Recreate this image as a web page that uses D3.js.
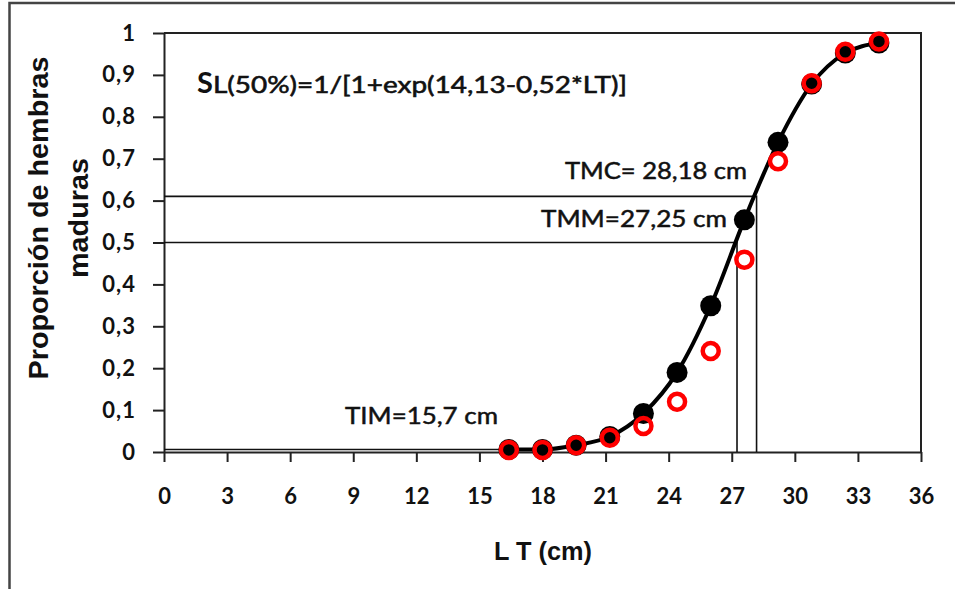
<!DOCTYPE html>
<html>
<head>
<meta charset="utf-8">
<script src="https://cdn.jsdelivr.net/npm/d3@7"></script>
<style>
  html, body { margin: 0; padding: 0; background: #fff; }
  svg { display: block; }
</style>
</head>
<body>
<script>
// Talla total (LT, cm) de cada clase
const lengths = [16.4, 18, 19.6, 21.2, 22.8, 24.4, 26, 27.6, 29.2, 30.8, 32.4, 34];
// Proporción ajustada por el modelo logístico (puntos negros y curva)
const fitted = [0.006, 0.006, 0.016, 0.037, 0.092, 0.19, 0.349, 0.554, 0.739, 0.878, 0.952, 0.976];
// Proporción observada de hembras maduras (círculos rojos)
const observed = [0.005, 0.005, 0.016, 0.034, 0.062, 0.12, 0.241, 0.459, 0.694, 0.88, 0.955, 0.98];

const xTicks = [0, 3, 6, 9, 12, 15, 18, 21, 24, 27, 30, 33, 36];
const yTicks = [0, 0.1, 0.2, 0.3, 0.4, 0.5, 0.6, 0.7, 0.8, 0.9, 1];

// Tallas de referencia: TIM, TMM y TMC
const refLabels = ["TIM=15,7 cm", "TMM=27,25 cm", "TMC= 28,18 cm"];
const refX = [16.4, 27.25, 28.18];
const refY = [0.006, 0.5, 0.61];

const equationLead = "S";
const equationRest = "L(50%)=1/[1+exp(14,13-0,52*LT)]";

const W = 955, H = 589;
const svg = d3.select("body").append("svg").attr("width", W).attr("height", H);

// marco exterior
svg.append("rect")
  .attr("x", 9.5).attr("y", 3).attr("width", 980).attr("height", 620)
  .attr("fill", "none").attr("stroke", "#444").attr("stroke-width", 2.5);

const x = d3.scaleLinear().domain([0, 36]).range([164, 921]);
const y = d3.scaleLinear().domain([0, 1]).range([452, 33]);

const fmt = d => String(d).replace(".", ",");

// borde superior y derecho del área de trazado
svg.append("path")
  .attr("d", `M${x(0)},${y(1)}H${x(36)}V${y(0)}`)
  .attr("fill", "none").attr("stroke", "#222").attr("stroke-width", 2);

const yAxis = svg.append("g")
  .attr("transform", `translate(${x(0)},0)`)
  .call(d3.axisLeft(y).tickValues(yTicks).tickSize(11).tickSizeOuter(0).tickPadding(17).tickFormat(fmt));

const xAxis = svg.append("g")
  .attr("transform", `translate(0,${y(0)})`)
  .call(d3.axisBottom(x).tickValues(xTicks).tickSize(10).tickSizeOuter(0).tickPadding(26).tickFormat(fmt));

[yAxis, xAxis].forEach(g => {
  g.selectAll("path.domain").attr("stroke", "#222").attr("stroke-width", 2);
  g.selectAll(".tick line").attr("stroke", "#222").attr("stroke-width", 2);
  g.selectAll(".tick text")
    .attr("fill", "#111")
    .style("font-family", "Lato, 'Open Sans', sans-serif")
    .style("font-weight", "bold")
    .style("font-size", "22px");
});
yAxis.selectAll(".tick text").style("letter-spacing", "1px");

// líneas de referencia (horizontal desde el eje y vertical hasta el eje)
const refLine = svg.append("g").attr("fill", "none").attr("stroke", "#111").attr("stroke-width", 1.6);
refX.forEach((rx, i) => {
  const p = d3.path();
  p.moveTo(x(0), y(refY[i]));
  p.lineTo(x(rx), y(refY[i]));
  if (i > 0) p.lineTo(x(rx), y(0));
  refLine.append("path").attr("d", p.toString());
});

// curva ajustada
const pts = lengths.map((l, i) => [l, fitted[i]]);
svg.append("path")
  .datum(pts)
  .attr("fill", "none").attr("stroke", "#000").attr("stroke-width", 4)
  .attr("d", d3.line().x(d => x(d[0])).y(d => y(d[1])).curve(d3.curveMonotoneX));

svg.append("g").selectAll("circle")
  .data(pts).join("circle")
  .attr("cx", d => x(d[0])).attr("cy", d => y(d[1]))
  .attr("r", 10.5).attr("fill", "#000");

svg.append("g").selectAll("circle")
  .data(lengths.map((l, i) => [l, observed[i]])).join("circle")
  .attr("cx", d => x(d[0])).attr("cy", d => y(d[1]))
  .attr("r", 8).attr("fill", "none").attr("stroke", "#ff0000").attr("stroke-width", 4.5);

// textos de tallas de referencia
const labelPos = [[345, 424, 153], [541, 227, 186], [565, 179, 182]];
refLabels.forEach((t, i) => {
  svg.append("text")
    .attr("x", labelPos[i][0]).attr("y", labelPos[i][1])
    .attr("textLength", labelPos[i][2]).attr("lengthAdjust", "spacingAndGlyphs")
    .style("font-family", "Lato, 'Open Sans', sans-serif")
    .style("font-size", "23px")
    .attr("fill", "#111").attr("stroke", "#111").attr("stroke-width", 0.5)
    .text(t);
});

// ecuación del modelo
svg.append("text")
  .attr("x", 197).attr("y", 93)
  .style("font-family", "Lato, 'Open Sans', sans-serif")
  .style("font-weight", "bold").style("font-size", "29px")
  .attr("fill", "#111").text(equationLead);
svg.append("text")
  .attr("x", 213).attr("y", 93)
  .attr("textLength", 414).attr("lengthAdjust", "spacingAndGlyphs")
  .style("font-family", "Lato, 'Open Sans', sans-serif")
  .style("font-size", "24px")
  .attr("fill", "#111").attr("stroke", "#111").attr("stroke-width", 0.6)
  .text(equationRest);

// títulos de ejes
svg.append("text")
  .attr("x", 494).attr("y", 560)
  .attr("textLength", 98).attr("lengthAdjust", "spacingAndGlyphs")
  .style("font-family", "'Liberation Sans', Arial, sans-serif")
  .style("font-weight", "bold").style("font-size", "25px")
  .attr("fill", "#111").text("L T (cm)");

const yTitle = svg.append("g").attr("transform", "translate(0,218) rotate(-90)")
  .style("font-family", "'Liberation Sans', Arial, sans-serif")
  .style("font-weight", "bold").style("font-size", "28px")
  .attr("fill", "#111").attr("text-anchor", "middle");
yTitle.append("text").attr("x", 0).attr("y", 48)
  .attr("textLength", 323).attr("lengthAdjust", "spacingAndGlyphs")
  .text("Proporción de hembras");
yTitle.append("text").attr("x", 0).attr("y", 88)
  .attr("textLength", 120).attr("lengthAdjust", "spacingAndGlyphs")
  .text("maduras");
</script>
</body>
</html>
